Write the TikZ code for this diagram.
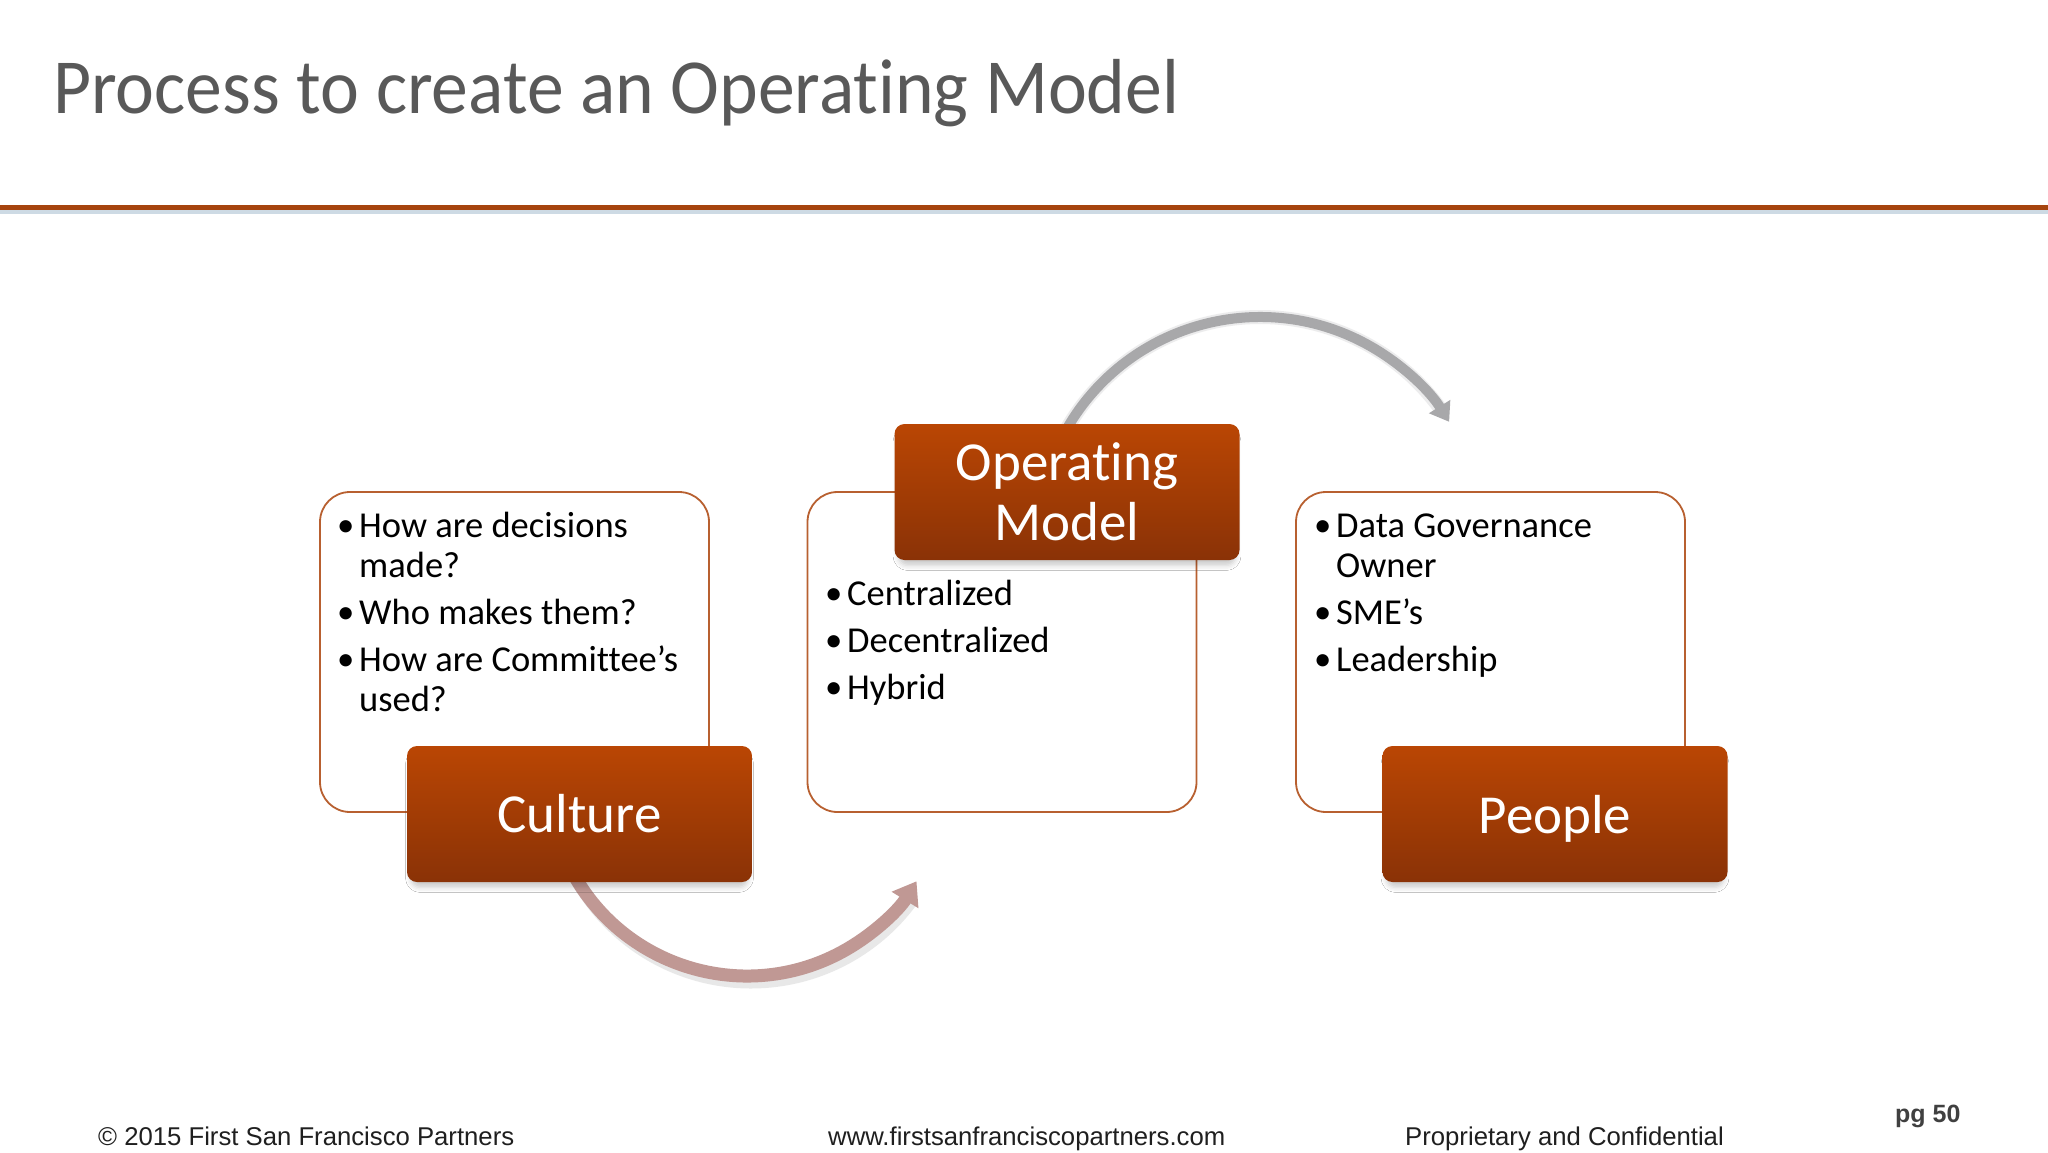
\documentclass[tikz,border=0pt]{standalone}
\usepackage{fontspec}
\usepackage{graphicx}
\setmainfont{Carlito}[Ligatures={NoCommon}]
\newfontfamily\arialf{Liberation Sans}
\usetikzlibrary{arrows.meta,shadows.blur}
\definecolor{rust}{RGB}{166,68,14}
\definecolor{titlegray}{RGB}{89,89,89}
\definecolor{otop}{RGB}{186,70,4}
\definecolor{obot}{RGB}{138,50,6}
\definecolor{wborder}{RGB}{184,96,48}
\definecolor{arrowrose}{RGB}{192,152,148}
\definecolor{arrowgray}{RGB}{168,168,170}
\definecolor{footgray}{RGB}{64,64,64}
\definecolor{hshadow}{RGB}{205,218,228}
\tikzset{
  obox/.style={rounded corners=10pt, top color=otop, bottom color=obot, draw=none,
    text=white, font=\fontsize{55}{60}\selectfont, align=center,
    minimum width=345pt, minimum height=136pt, inner sep=0pt,
    blur shadow={shadow xshift=0pt, shadow yshift=-7pt, shadow blur radius=5pt, shadow opacity=20, shadow scale=0.98}},
  wbox/.style={rounded corners=30pt, draw=wborder, line width=1.8pt, fill=white,
    minimum width=389pt, minimum height=320pt, inner sep=0pt},
  listtext/.style={anchor=base west, inner sep=0pt, text=black,
    font=\fontsize{36.5}{40}\selectfont},
  foot/.style={anchor=base west, inner sep=0pt, text=black!88,
    font=\arialf\fontsize{25.7}{30}\selectfont},
}
\newcommand{\bul}{\makebox[18pt][l]{\hspace{-4pt}\raisebox{0.5pt}{\scalebox{0.95}{\textbullet}}}}
\begin{document}
\begin{tikzpicture}[x=1pt,y=-1pt]
\useasboundingbox (0,0) rectangle (2048,1152);
\fill[white] (0,0) rectangle (2048,1152);
% title
\node[anchor=base west, inner sep=0pt, text=titlegray,
  font=\fontsize{78}{90}\selectfont] (title) at (53,113)
  {\scalebox{0.944}[1]{Process to create an Operating Model}};
% header rule
\coordinate (hl) at (0,207);
\coordinate (hr) at (2048,207);
\coordinate (sl) at (0,212);
\coordinate (sr) at (2048,212);
\draw[hshadow, line width=4pt] (sl) -- (sr);
\draw[rust, line width=5pt] (hl) -- (hr);
% white boxes
\node[wbox] (cbox) at (514.5,652) {};
\node[wbox] (mbox) at (1002,652) {};
\node[wbox] (pbox) at (1490.5,652) {};
% arrows
\coordinate (ta) at (1066.9,428.5);
\draw[arrowgray!60, line width=14pt, opacity=0.35] (ta) arc[start angle=-150, end angle=-36, radius=223];
\draw[arrowgray, line width=10pt, -{Triangle[width=24pt,length=18pt]}] (ta) arc[start angle=-150, end angle=-32, radius=223];
\coordinate (ba) at (574.7,876.5);
\coordinate (bas) at (578.7,882.5);
\draw[black!25, line width=13pt, opacity=0.35] (bas) arc[start angle=150, end angle=36, radius=199];
\draw[arrowrose, line width=13pt, -{Triangle[width=30pt,length=22pt]}] (ba) arc[start angle=150, end angle=31.6, radius=199];
% orange boxes
\node[obox] (culture) at (579.5,814) {\vphantom{l}Culture};
\node[obox] (opm) at (1067,492) {Operating\\Model};
\node[obox, text depth=0pt] (people) at (1555,814) {People};
% list texts
\node[listtext] (ctext) at (341,537) {\begin{tabular}[t]{@{}l@{}l@{}}
\bul & How are decisions\\
 & made?\\[7pt]
\bul & Who makes them?\\[7pt]
\bul & How are Committee’s\\
 & used?
\end{tabular}};
\node[listtext] (mtext) at (829,605) {\begin{tabular}[t]{@{}l@{}l@{}}
\bul & Centralized\\[7pt]
\bul & Decentralized\\[7pt]
\bul & Hybrid
\end{tabular}};
\node[listtext] (ptext) at (1318,537) {\begin{tabular}[t]{@{}l@{}l@{}}
\bul & Data Governance\\
 & Owner\\[7pt]
\bul & SME’s\\[7pt]
\bul & Leadership
\end{tabular}};
% footer
\node[foot] (copy) at (98,1145) {© 2015 First San Francisco Partners};
\node[foot] (web) at (828,1145) {www.firstsanfranciscopartners.com};
\node[foot] (prop) at (1405,1145) {Proprietary and Confidential};
\node[anchor=base west, inner sep=0pt, text=footgray,
  font=\arialf\bfseries\fontsize{25}{30}\selectfont] (pg) at (1895,1122) {pg 50};
\end{tikzpicture}
\end{document}
